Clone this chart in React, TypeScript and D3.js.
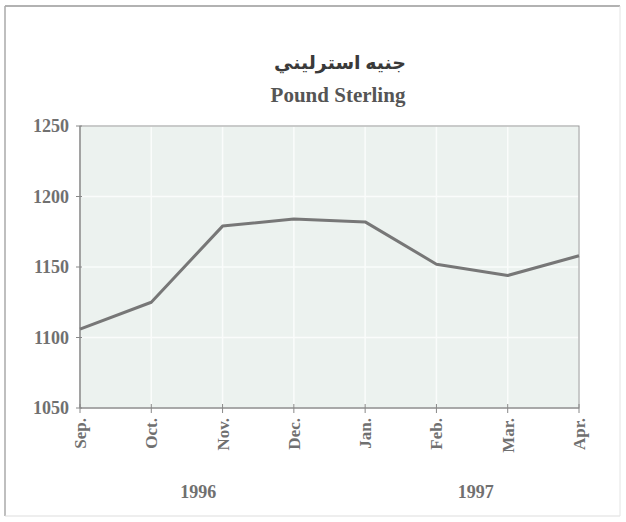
import React from "react";
import * as d3 from "d3";

const months = ["Sep.", "Oct.", "Nov.", "Dec.", "Jan.", "Feb.", "Mar.", "Apr."];
const values = [1106, 1125, 1179, 1184, 1182, 1152, 1144, 1158];
const yTicks = [1050, 1100, 1150, 1200, 1250];
const yearLabels = ["1996", "1997"];
const yearCenters = [1.66, 5.55];
const titleAr = "جنيه استرليني";
const titleEn = "Pound Sterling";

export default function App() {
  const W = 626, H = 522;
  const left = 80, right = 579, top = 126, bottom = 408;
  const x = d3.scalePoint<string>().domain(months).range([left, right]);
  const xi = d3.scaleLinear().domain([0, months.length - 1]).range([left, right]);
  const y = d3.scaleLinear().domain([1050, 1250]).range([bottom, top]);
  const line = d3
    .line<number>()
    .x((_, i) => x(months[i]) as number)
    .y((d) => y(d));
  const font = "'Liberation Serif', 'DejaVu Serif', serif";
  const textColor = "#707070";
  return (
    <svg
      width={W}
      height={H}
      style={{ position: "absolute", left: 0, top: 0, background: "#fff" }}
      fontFamily={font}
    >
      {/* outer frame */}
      <line x1={5} y1={6} x2={620} y2={6} stroke="#999" strokeWidth={1.5} />
      <line x1={5} y1={6} x2={5} y2={516} stroke="#aaa" strokeWidth={1.5} />
      <line x1={5} y1={516} x2={620} y2={516} stroke="#ddd" strokeWidth={1} />
      <line x1={620} y1={6} x2={620} y2={516} stroke="#e4e4e4" strokeWidth={1} />

      <text x={340} y={69} textAnchor="middle" fontSize={19} fontWeight="bold" fill="#3a3a3a"
        fontFamily="'Liberation Serif', 'DejaVu Sans', serif" direction="rtl">
        {titleAr}
      </text>
      <text x={338} y={102} textAnchor="middle" fontSize={21} fontWeight="bold" fill="#555">
        {titleEn}
      </text>

      {/* plot background */}
      <rect x={left} y={top} width={right - left} height={bottom - top} fill="#ecf2ef" />
      {/* gridlines */}
      {yTicks.map((t) => (
        <line key={"g" + t} x1={left} x2={right} y1={y(t)} y2={y(t)} stroke="#fafcfb" strokeWidth={1.5} />
      ))}
      {months.map((m) => (
        <line key={"v" + m} x1={x(m)} x2={x(m)} y1={top} y2={bottom} stroke="#fafcfb" strokeWidth={1.5} />
      ))}
      <rect x={left} y={top} width={right - left} height={bottom - top} fill="none" stroke="#999" strokeWidth={1} />
      <line x1={left} x2={left} y1={top} y2={bottom} stroke="#888" strokeWidth={1.2} />
      <line x1={left} x2={right} y1={bottom} y2={bottom} stroke="#888" strokeWidth={1.2} />

      {/* y ticks */}
      {yTicks.map((t) => (
        <g key={"y" + t}>
          <line x1={left - 4} x2={left + 2} y1={y(t)} y2={y(t)} stroke="#888" strokeWidth={1} />
          <text x={69} y={y(t)} dy="0.35em" textAnchor="end" fontSize={18} fontWeight="bold" fill={textColor}>
            {t}
          </text>
        </g>
      ))}

      {/* x ticks */}
      {months.map((m) => (
        <g key={"x" + m}>
          <line x1={x(m)} x2={x(m)} y1={bottom - 4} y2={bottom + 5} stroke="#888" strokeWidth={1} />
          <text
            transform={`translate(${(x(m) as number) + 6},${bottom + 10}) rotate(-90)`}
            textAnchor="end"
            fontSize={17}
            fontWeight="bold"
            fill={textColor}
          >
            {m}
          </text>
        </g>
      ))}

      {yearLabels.map((lab, i) => (
        <text
          key={lab}
          x={xi(yearCenters[i])}
          y={498}
          textAnchor="middle"
          fontSize={18}
          fontWeight="bold"
          fill={textColor}
        >
          {lab}
        </text>
      ))}

      <path d={line(values) || ""} fill="none" stroke="#777" strokeWidth={3} strokeLinejoin="round" />
    </svg>
  );
}
